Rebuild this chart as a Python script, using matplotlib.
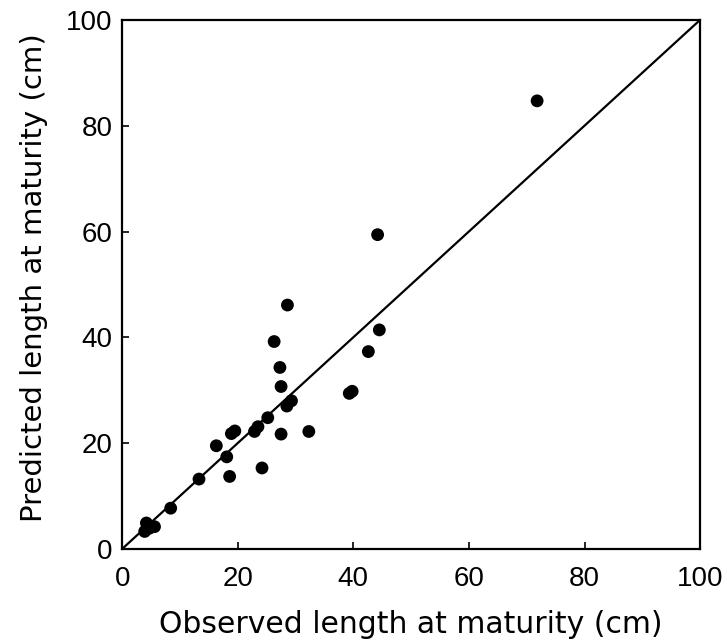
"""
Predicted vs observed length at maturity, with the 1:1 line.
"""

import matplotlib.pyplot as plt

# observed (x) and predicted (y) length at maturity, cm
observed = [71.8, 44.2, 44.5, 42.6, 39.3, 39.8, 28.6, 26.3, 27.3, 27.5,
            28.5, 29.3, 27.5, 32.3, 24.2, 23.5, 25.2, 22.9, 18.9, 19.5,
            16.3, 18.1, 18.6, 13.3, 8.4, 4.2, 4.7, 3.9, 5.6]
predicted = [84.7, 59.4, 41.4, 37.3, 29.4, 29.8, 46.1, 39.2, 34.3, 30.7,
             27.0, 28.0, 21.7, 22.2, 15.3, 23.1, 24.8, 22.2, 21.8, 22.3,
             19.5, 17.4, 13.7, 13.2, 7.7, 4.9, 3.9, 3.3, 4.2]

ticks = [0, 20, 40, 60, 80, 100]

plt.rcParams['font.family'] = ['Liberation Sans', 'DejaVu Sans']

fig = plt.figure(figsize=(7.27, 6.42), dpi=100)
ax = fig.add_axes([0.168, 0.145, 0.795, 0.824])

# 1:1 line
ax.plot([0, 100], [0, 100], color='black', lw=1.6)
ax.scatter(observed, predicted, s=85, color='black', edgecolors='none',
           clip_on=False, zorder=3)

ax.set_xlim(0, 100)
ax.set_ylim(0, 100)
ax.set_xticks(ticks)
ax.set_yticks(ticks)
ax.tick_params(direction='in', length=5, width=1.2, labelsize=20)
ax.tick_params(axis='x', pad=12)
ax.tick_params(axis='y', pad=7)
for spine in ax.spines.values():
    spine.set_linewidth(1.6)

# labels in a wider face, the scan's lettering is stretched
ax.set_xlabel('Observed length at maturity (cm)', fontsize=21.5,
              family='DejaVu Sans', va='center')
ax.set_ylabel('Predicted length at maturity (cm)', fontsize=21,
              family='DejaVu Sans', va='center')
ax.xaxis.set_label_coords(0.5, -0.142)
ax.yaxis.set_label_coords(-0.152, 0.512)

fig.savefig('out.png', dpi=100)
